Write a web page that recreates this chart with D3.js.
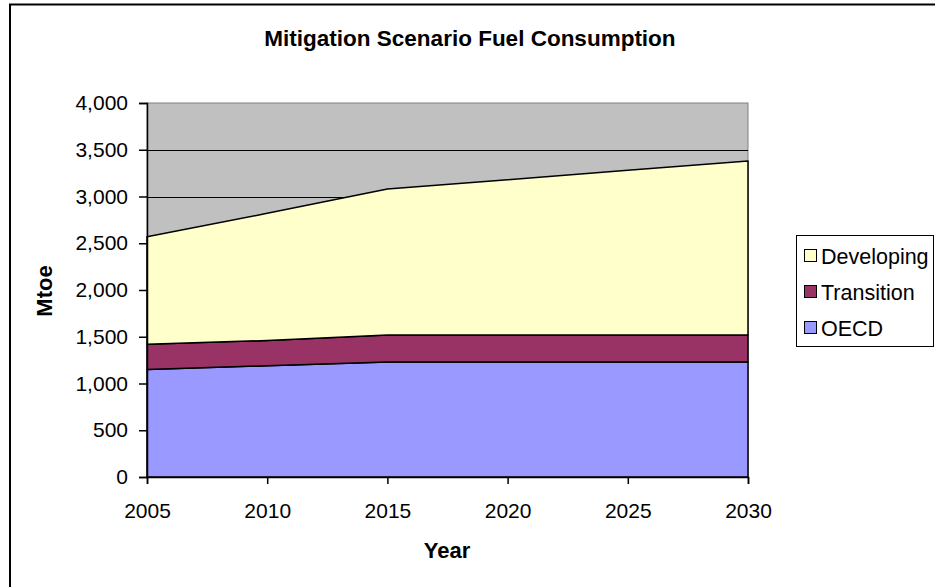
<!DOCTYPE html>
<html>
<head>
<meta charset="utf-8">
<script src="https://cdn.jsdelivr.net/npm/d3@7"></script>
<style>
  html, body { margin: 0; padding: 0; background: #fff; }
  svg { display: block; font-family: "Liberation Sans", Arial, sans-serif; }
</style>
</head>
<body>
<svg id="chart" width="935" height="587"></svg>
<script>
// Fuel consumption by region, Mtoe
const years = [2005, 2010, 2015, 2020, 2025, 2030];
const oecd = [1150, 1190, 1230, 1230, 1230, 1230];
const transition = [270, 270, 290, 290, 290, 290];
const developing = [1150, 1360, 1560, 1660, 1760, 1860];
const seriesNames = ["OECD", "Transition", "Developing"];
const seriesColors = ["#9999FF", "#993366", "#FFFFCC"];
const yTicks = [0, 500, 1000, 1500, 2000, 2500, 3000, 3500, 4000];

const svg = d3.select("#chart");
const plot = { left: 147, right: 748, top: 103, bottom: 477 };

const rows = years.map((y, i) => ({
  year: y, OECD: oecd[i], Transition: transition[i], Developing: developing[i]
}));
const stacked = d3.stack().keys(seriesNames)(rows);

const x = d3.scaleLinear().domain([2005, 2030]).range([plot.left, plot.right]);
const y = d3.scaleLinear().domain([0, 4000]).range([plot.bottom, plot.top]);

// outer frame
svg.append("rect")
  .attr("x", 10).attr("y", 4.5).attr("width", 1000).attr("height", 1000)
  .attr("fill", "none").attr("stroke", "#000").attr("stroke-width", 2);

// title
svg.append("text")
  .attr("x", 470).attr("y", 46)
  .attr("text-anchor", "middle")
  .attr("font-size", 22.5).attr("font-weight", "bold")
  .text("Mitigation Scenario Fuel Consumption");

// plot background
svg.append("rect")
  .attr("x", plot.left).attr("y", plot.top)
  .attr("width", plot.right - plot.left).attr("height", plot.bottom - plot.top)
  .attr("fill", "#C0C0C0").attr("stroke", "#808080").attr("stroke-width", 1);

// gridlines
svg.append("g")
  .selectAll("line")
  .data(yTicks.filter(t => t > 0 && t < 4000))
  .join("line")
  .attr("x1", plot.left).attr("x2", plot.right)
  .attr("y1", d => Math.round(y(d)) + 0.5).attr("y2", d => Math.round(y(d)) + 0.5)
  .attr("stroke", "#000").attr("stroke-width", 1);

// stacked areas
const area = d3.area()
  .x(d => x(d.data.year))
  .y0(d => y(d[0]))
  .y1(d => y(d[1]));

svg.append("g")
  .selectAll("path")
  .data(stacked)
  .join("path")
  .attr("d", area)
  .attr("fill", (d, i) => seriesColors[i])
  .attr("stroke", "#000")
  .attr("stroke-width", 1.5)
  .attr("stroke-linejoin", "round");

// y axis
const yAxis = svg.append("g")
  .attr("transform", `translate(${plot.left},0)`)
  .call(d3.axisLeft(y).tickValues(yTicks).tickFormat(d3.format(",")).tickSize(8).tickPadding(11));
yAxis.select(".domain").attr("stroke", "#000").attr("stroke-width", 1.5);
yAxis.selectAll(".tick line").attr("stroke", "#000").attr("stroke-width", 1.5);
yAxis.selectAll(".tick text")
  .attr("font-size", 21).attr("font-family", "'Liberation Sans', Arial, sans-serif").attr("fill", "#000");

// x axis
const xAxis = svg.append("g")
  .attr("transform", `translate(0,${plot.bottom})`)
  .call(d3.axisBottom(x).tickValues(years).tickFormat(d3.format("d")).tickSize(7).tickPadding(19));
xAxis.select(".domain").attr("stroke", "#000").attr("stroke-width", 1.5);
xAxis.selectAll(".tick line").attr("stroke", "#000").attr("stroke-width", 1.5);
xAxis.selectAll(".tick text")
  .attr("font-size", 21).attr("font-family", "'Liberation Sans', Arial, sans-serif").attr("fill", "#000");

// axis titles
svg.append("text")
  .attr("x", 447).attr("y", 558)
  .attr("text-anchor", "middle")
  .attr("font-size", 22).attr("font-weight", "bold")
  .text("Year");

svg.append("text")
  .attr("transform", "translate(52,291) rotate(-90)")
  .attr("text-anchor", "middle")
  .attr("font-size", 22).attr("font-weight", "bold")
  .text("Mtoe");

// legend
const legend = svg.append("g");
legend.append("rect")
  .attr("x", 796.5).attr("y", 235.5).attr("width", 137).attr("height", 111)
  .attr("fill", "#fff").attr("stroke", "#000").attr("stroke-width", 1);

const legendOrder = [2, 1, 0];
const legendItems = legend.selectAll("g.item")
  .data(legendOrder)
  .join("g")
  .attr("class", "item")
  .attr("transform", (d, i) => `translate(0,${256 + i * 36})`);

legendItems.append("rect")
  .attr("x", 804.5).attr("y", -6.5).attr("width", 12).attr("height", 12)
  .attr("fill", d => seriesColors[d]).attr("stroke", "#000").attr("stroke-width", 1);

legendItems.append("text")
  .attr("x", 821).attr("y", 7.5)
  .attr("font-size", 21.5)
  .text(d => seriesNames[d]);
</script>
</body>
</html>
